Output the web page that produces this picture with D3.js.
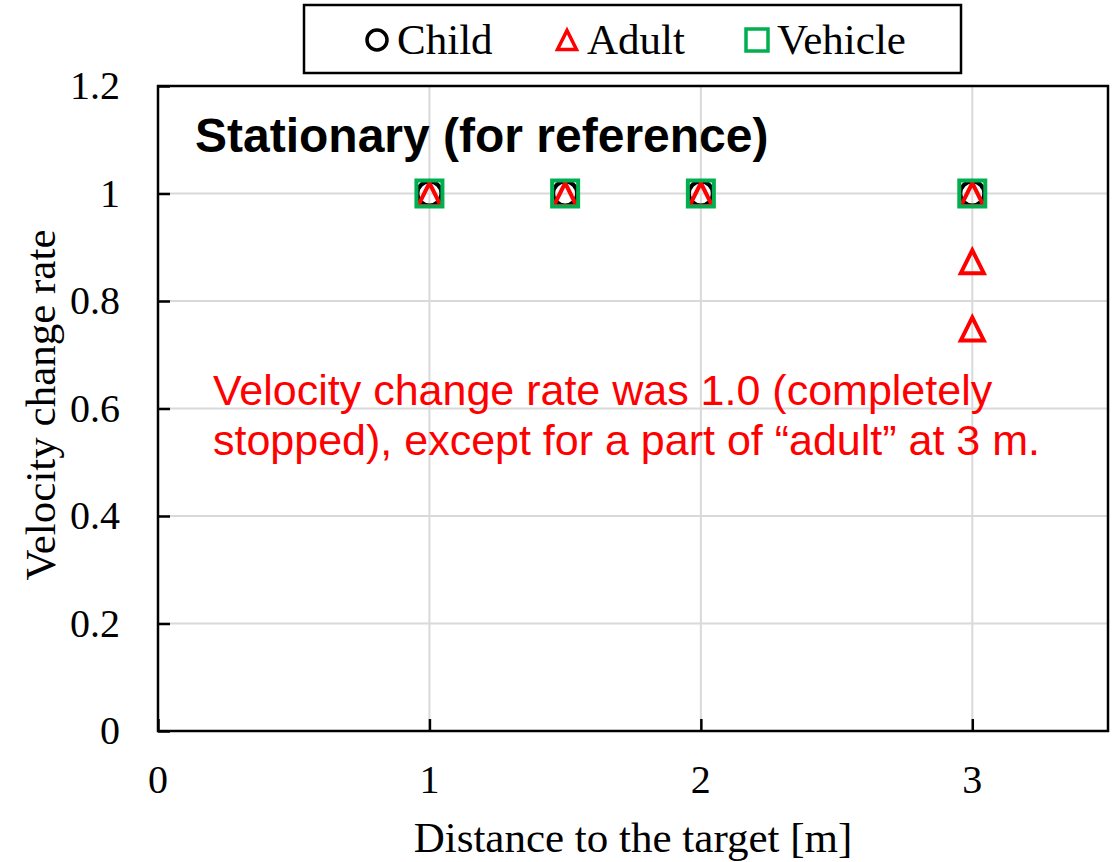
<!doctype html>
<meta charset="utf-8" />
<style>
    body { margin: 0; background: #fff; }
    svg { display: block; }
    .serif { font-family: "Times New Roman", "Liberation Serif", serif; }
    .sans { font-family: Arial, "Liberation Sans", sans-serif; }
</style>
<svg></svg>

<script src="https://cdn.jsdelivr.net/npm/d3@7"></script>

<script>
    // data
    var childX = [1, 1.5, 2, 3];
    var childY = [1, 1, 1, 1];
    var adultX = [1, 1.5, 2, 3, 3, 3];
    var adultY = [1, 1, 1, 1, 0.875, 0.75];
    var vehicleX = [1, 1.5, 2, 3];
    var vehicleY = [1, 1, 1, 1];

    var xTicks = [0, 1, 2, 3];
    var yTicks = [0, 0.2, 0.4, 0.6, 0.8, 1, 1.2];
    var xGrid = [1, 2, 3];
    var yGrid = [0.2, 0.4, 0.6, 0.8, 1];

    var legendNames = ['Child', 'Adult', 'Vehicle'];
    var title = 'Stationary (for reference)';
    var note = ['Velocity change rate was 1.0 (completely',
                'stopped), except for a part of \u201cadult\u201d at 3 m.'];

    var W = 1114, H = 862;
    var pL = 158, pR = 1108, pT = 86, pB = 731;

    var svg = d3.select('svg')
        .attr('width', W)
        .attr('height', H)

    var x = d3.scaleLinear().domain([0, 3.5]).range([pL, pR]);
    var y = d3.scaleLinear().domain([0, 1.2]).range([pB, pT]);

    var red = '#ff0000', green = '#00b050', black = '#000';

    // grid
    svg.append('g').selectAll('line').data(xGrid).join('line')
        .attr('x1', d => x(d)).attr('x2', d => x(d))
        .attr('y1', pT).attr('y2', pB)
        .style('stroke', '#d9d9d9').style('stroke-width', 2)
    svg.append('g').selectAll('line').data(yGrid).join('line')
        .attr('x1', pL).attr('x2', pR)
        .attr('y1', d => y(d)).attr('y2', d => y(d))
        .style('stroke', '#d9d9d9').style('stroke-width', 2)

    // axes with inside ticks
    svg.append('g')
        .attr('transform', 'translate(0,' + pB + ')')
        .call(d3.axisTop(x).tickValues(xTicks).tickSize(12).tickFormat(''))
    svg.append('g')
        .attr('transform', 'translate(' + pL + ',0)')
        .call(d3.axisRight(y).tickValues(yTicks).tickSize(12).tickFormat(''))
    svg.selectAll('.domain').remove()
    svg.selectAll('.tick line').style('stroke', black).style('stroke-width', 2.5)

    svg.append('rect')
        .attr('x', pL).attr('y', pT)
        .attr('width', pR - pL).attr('height', pB - pT)
        .style('fill', 'none').style('stroke', black).style('stroke-width', 2.5)

    // tick labels
    svg.append('g').selectAll('text').data(xTicks).join('text')
        .attr('class', 'serif')
        .attr('x', d => x(d)).attr('y', 793)
        .attr('text-anchor', 'middle')
        .style('font-size', '40px')
        .text(d => d)
    svg.append('g').selectAll('text').data(yTicks).join('text')
        .attr('class', 'serif')
        .attr('x', 120).attr('y', d => y(d) + 13)
        .attr('text-anchor', 'end')
        .style('font-size', '40px')
        .text(d => d)

    // axis titles
    svg.append('text')
        .attr('class', 'serif')
        .attr('x', (pL + pR) / 2).attr('y', 852)
        .attr('text-anchor', 'middle')
        .style('font-size', '43px')
        .text('Distance to the target [m]')
    svg.append('text')
        .attr('class', 'serif')
        .attr('transform', 'translate(55,405) rotate(-90)')
        .attr('text-anchor', 'middle')
        .style('font-size', '43px')
        .text('Velocity change rate')

    // title and note
    svg.append('text')
        .attr('class', 'sans')
        .attr('x', 195).attr('y', 152)
        .style('font-size', '48px').style('font-weight', 'bold')
        .text(title)
    svg.append('g').selectAll('text').data(note).join('text')
        .attr('class', 'sans')
        .attr('x', 213).attr('y', (d, i) => 405 + i * 50)
        .style('font-size', '43px').style('fill', red)
        .text(d => d)

    // triangle outline centred on its bounding box
    function triPath(s) {
        var p = d3.path();
        p.moveTo(0, -s);
        p.lineTo(s, s);
        p.lineTo(-s, s);
        p.closePath();
        return p.toString();
    }

    function pts(xs, ys) {
        return xs.map((v, i) => [v, ys[i]]);
    }

    // markers
    svg.append('g').selectAll('circle').data(pts(childX, childY)).join('circle')
        .attr('cx', d => x(d[0])).attr('cy', d => y(d[1])).attr('r', 12)
        .style('fill', 'none').style('stroke', black).style('stroke-width', 4)
    svg.append('g').selectAll('path').data(pts(adultX, adultY)).join('path')
        .attr('d', triPath(11.5))
        .attr('transform', d => 'translate(' + x(d[0]) + ',' + (y(d[1]) + 1) + ')')
        .style('fill', 'none').style('stroke', red).style('stroke-width', 4)
    svg.append('g').selectAll('rect').data(pts(vehicleX, vehicleY)).join('rect')
        .attr('x', d => x(d[0]) - 13).attr('y', d => y(d[1]) - 13)
        .attr('width', 26).attr('height', 26)
        .style('fill', 'none').style('stroke', green).style('stroke-width', 4)

    // legend
    svg.append('rect')
        .attr('x', 304).attr('y', 5).attr('width', 657).attr('height', 68)
        .style('fill', '#fff').style('stroke', black).style('stroke-width', 2.5)

    var legendX = [377, 567, 757];
    var lg = svg.append('g').selectAll('g').data(legendNames).join('g')
        .attr('transform', (d, i) => 'translate(' + legendX[i] + ',40)')
    lg.filter((d, i) => i === 0).append('circle')
        .attr('r', 10).style('fill', 'none').style('stroke', black).style('stroke-width', 3.5)
    lg.filter((d, i) => i === 1).append('path')
        .attr('d', triPath(9.5))
        .style('fill', 'none').style('stroke', red).style('stroke-width', 3.5)
    lg.filter((d, i) => i === 2).append('rect')
        .attr('x', -11).attr('y', -11).attr('width', 22).attr('height', 22)
        .style('fill', 'none').style('stroke', green).style('stroke-width', 3.5)
    lg.append('text')
        .attr('class', 'serif')
        .attr('x', 20).attr('y', 14)
        .style('font-size', '43px')
        .text(d => d)
</script>
